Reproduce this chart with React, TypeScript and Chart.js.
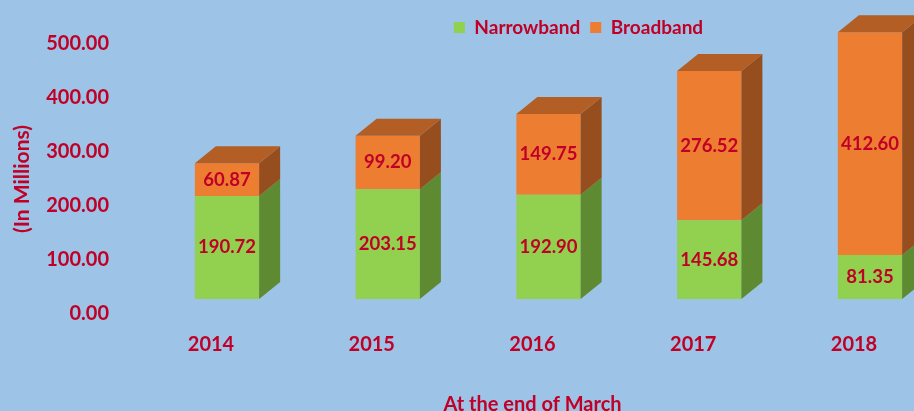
import { useEffect, useRef } from "react";
import { Chart, registerables } from "chart.js";

Chart.register(...registerables);

const years = ["2014", "2015", "2016", "2017", "2018"];
const narrowband = [190.72, 203.15, 192.9, 145.68, 81.35];
const broadband = [60.87, 99.2, 149.75, 276.52, 412.6];
const yTickValues = [0, 100, 200, 300, 400, 500];

const RED = "#C00027";
const BG = "#9DC3E6";
const FONT = "Lato, 'Open Sans', sans-serif";
const GREEN = "#92D050";
const GREEN_SIDE = "#5E8A32";
const GREEN_TOP = "#76A93E";
const ORANGE = "#ED7D31";
const ORANGE_SIDE = "#964E1E";
const ORANGE_TOP = "#B35E24";
const DEPTH_X = 21;
const DEPTH_Y = -17;
const FRONT_SHIFT_X = 16;
const FRONT_SHIFT_Y = -15;

const sideColors = [GREEN_SIDE, ORANGE_SIDE];
const topColors = [GREEN_TOP, ORANGE_TOP];

const threeD = {
  id: "threeD",
  beforeDatasetsDraw(chart: any) {
    const ctx = chart.ctx;
    ctx.save();
    ctx.translate(FRONT_SHIFT_X, FRONT_SHIFT_Y);
  },
  afterDatasetsDraw(chart: any) {
    const ctx = chart.ctx;
    const metas = chart.getSortedVisibleDatasetMetas();
    metas.forEach((meta: any, mi: number) => {
      const isTop = mi === metas.length - 1;
      meta.data.forEach((bar: any) => {
        const { x, y, base, width } = bar.getProps(["x", "y", "base", "width"], true);
        const left = x - width / 2;
        const right = x + width / 2;
        const top = Math.min(y, base);
        const bottom = Math.max(y, base);
        ctx.fillStyle = sideColors[meta.index];
        ctx.beginPath();
        ctx.moveTo(right, top);
        ctx.lineTo(right + DEPTH_X, top + DEPTH_Y);
        ctx.lineTo(right + DEPTH_X, bottom + DEPTH_Y);
        ctx.lineTo(right, bottom);
        ctx.closePath();
        ctx.fill();
        if (isTop) {
          ctx.fillStyle = topColors[meta.index];
          ctx.beginPath();
          ctx.moveTo(left, top);
          ctx.lineTo(left + DEPTH_X, top + DEPTH_Y);
          ctx.lineTo(right + DEPTH_X, top + DEPTH_Y);
          ctx.lineTo(right, top);
          ctx.closePath();
          ctx.fill();
        }
      });
    });
    ctx.font = `bold 18.5px ${FONT}`;
    ctx.fillStyle = RED;
    ctx.textAlign = "center";
    ctx.textBaseline = "middle";
    metas.forEach((meta: any) => {
      const values = chart.data.datasets[meta.index].data as number[];
      meta.data.forEach((bar: any, i: number) => {
        const { x, y, base } = bar.getProps(["x", "y", "base"], true);
        ctx.fillText(values[i].toFixed(2), x, (y + base) / 2);
      });
    });
    ctx.restore();
  },
  afterLayout(chart: any) {
    const lg = chart.legend;
    if (lg) {
      lg.left = lg.left + 303;
      lg.top = lg.top + 3;
    }
  },
};

export default function App() {
  const ref = useRef<HTMLCanvasElement>(null);
  useEffect(() => {
    if (!ref.current) return;
    const chart = new Chart(ref.current, {
      type: "bar",
      data: {
        labels: years,
        datasets: [
          {
            label: "Narrowband",
            data: narrowband,
            backgroundColor: GREEN,
            borderWidth: 0,
            clip: false as any,
            categoryPercentage: 0.8,
            barPercentage: 0.5,
          },
          {
            label: "Broadband",
            data: broadband,
            backgroundColor: ORANGE,
            borderWidth: 0,
            clip: false as any,
            categoryPercentage: 0.8,
            barPercentage: 0.5,
          },
        ],
      },
      options: {
        animation: false,
        responsive: true,
        maintainAspectRatio: false,
        layout: { padding: { top: 5, right: 60, left: 0, bottom: 0 } },
        plugins: {
          tooltip: { enabled: false },
          legend: {
            position: "top",
            labels: {
              boxWidth: 11,
              boxHeight: 11,
              padding: 10,
              color: RED,
              font: { family: FONT, size: 19, weight: "bold" },
            },
          },
        },
        scales: {
          x: {
            stacked: true,
            offset: false,
            grid: { display: false, drawTicks: false },
            border: { display: false },
            afterFit: (scale: any) => {
              scale.height = 97;
            },
            ticks: {
              color: RED,
              padding: 19,
              font: { family: FONT, size: 20, weight: "bold" },
            },
            title: {
              display: true,
              text: "At the end of March",
              color: RED,
              font: { family: FONT, size: 20, weight: "bold" },
              padding: { top: 30, bottom: -6 },
            },
          },
          y: {
            stacked: true,
            min: 0,
            max: 500,
            grid: { display: false, drawTicks: false },
            border: { display: false },
            afterBuildTicks: (scale: any) => {
              scale.ticks = yTickValues.map((v) => ({ value: v }));
            },
            afterFit: (scale: any) => {
              scale.width = 211;
              scale.paddingTop = 0;
              scale.paddingBottom = 0;
            },
            ticks: {
              color: RED,
              padding: 102,
              font: { family: FONT, size: 20, weight: "bold" },
              callback: (v: any) => Number(v).toFixed(2),
            },
            title: {
              display: true,
              text: "(In Millions)",
              color: RED,
              font: { family: FONT, size: 21, weight: "bold" },
              padding: { top: 10, bottom: 0 },
            },
          },
        },
      },
      plugins: [threeD],
    });
    return () => chart.destroy();
  }, []);
  return (
    <div
      style={{
        position: "fixed",
        left: 0,
        top: 0,
        width: 914,
        height: 411,
        background: BG,
        overflow: "hidden",
      }}
    >
      <canvas ref={ref} />
    </div>
  );
}
